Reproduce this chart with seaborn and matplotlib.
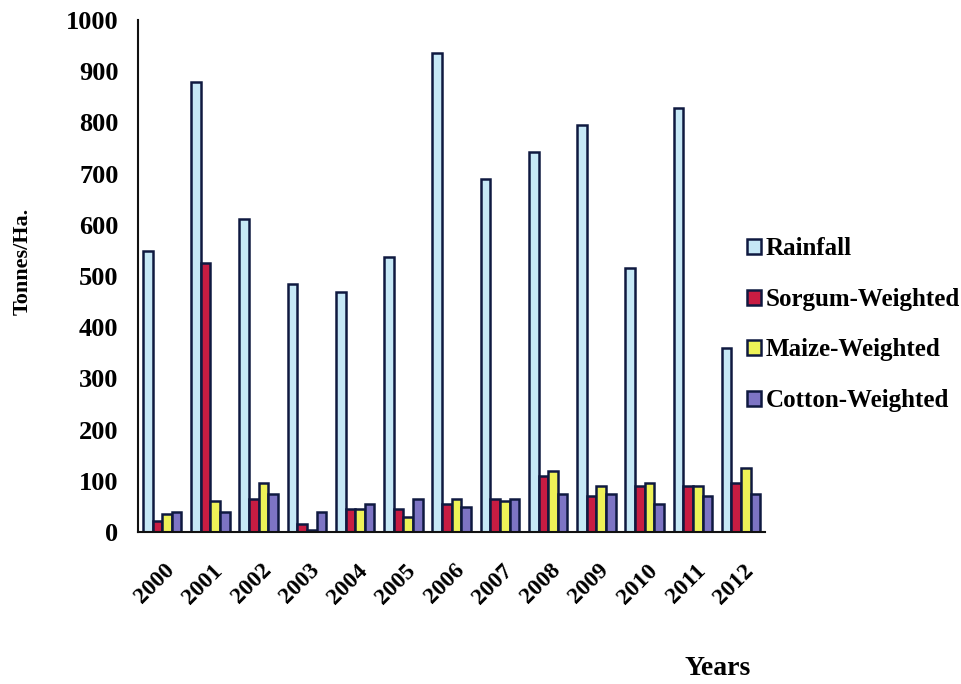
import pandas as pd
import matplotlib.pyplot as plt
import matplotlib.transforms as mtransforms
import seaborn as sns

# values
years = ['2000', '2001', '2002', '2003', '2004', '2005', '2006',
         '2007', '2008', '2009', '2010', '2011', '2012']
rainfall = [548, 878, 612, 484, 468, 538, 935, 690, 742, 795, 515, 828, 360]
sorgum = [22, 525, 65, 15, 45, 45, 55, 65, 110, 70, 90, 90, 95]
maize = [35, 60, 95, 5, 45, 30, 65, 60, 120, 90, 95, 90, 125]
cotton = [40, 40, 75, 40, 55, 65, 50, 65, 75, 75, 55, 70, 75]

series_names = ['Rainfall', 'Sorgum-Weighted', 'Maize-Weighted', 'Cotton-Weighted']
series_colors = ['#c6e8f6', '#c81c42', '#eef257', '#7d74c4']

data = pd.DataFrame({
    'Year': years * 4,
    'Value': rainfall + sorgum + maize + cotton,
    'Series': [n for n in series_names for _ in years],
})

sns.set_style('white')
plt.rcParams['font.family'] = ['Liberation Serif', 'DejaVu Serif']
plt.rcParams['font.weight'] = 'bold'
plt.rcParams['text.color'] = 'black'
plt.rcParams['xtick.color'] = 'black'
plt.rcParams['ytick.color'] = 'black'

fig = plt.figure(figsize=(9.62, 6.84), dpi=100)
ax = fig.add_axes([0.1435, 0.222, 0.652, 0.749])

sns.barplot(ax=ax, data=data, x='Year', y='Value', hue='Series',
            palette=series_colors, width=0.8, edgecolor='#0f1940',
            linewidth=1.8, saturation=1)

ax.set_xlim(-0.5, 12.5)
ax.set_ylim(0, 1000)
ax.set_yticks(range(0, 1001, 100))
ax.tick_params(axis='y', labelsize=19, length=0, pad=14, labelcolor='black')
ax.tick_params(axis='x', labelsize=17, length=0, pad=20, labelcolor='black')
shift = mtransforms.ScaledTranslation(2 / 100, 0, fig.dpi_scale_trans)
for lbl in ax.get_xticklabels():
    lbl.set_rotation(45)
    lbl.set_ha('right')
    lbl.set_rotation_mode('anchor')
    lbl.set_fontweight('bold')
    lbl.set_transform(lbl.get_transform() + shift)
for lbl in ax.get_yticklabels():
    lbl.set_fontweight('bold')

ax.set_xlabel('')
ax.set_ylabel('')
fig.text(0.024, 0.618, 'Tonnes/Ha.', rotation=90, fontsize=16, fontweight='bold',
         ha='center', va='center', color='black')
fig.text(0.746, 0.023, 'Years', fontsize=20, fontweight='bold', ha='center',
         va='center', color='black')

for side in ['top', 'right']:
    ax.spines[side].set_visible(False)
ax.spines['left'].set_color('#111111')
ax.spines['bottom'].set_color('#111111')
ax.spines['left'].set_linewidth(1.5)
ax.spines['bottom'].set_linewidth(1.5)

handles, labels = ax.get_legend_handles_labels()
leg = ax.legend(handles, labels, loc='center left', bbox_to_anchor=(0.935, 0.405),
                frameon=False, labelspacing=1.1, handlelength=0.55,
                handleheight=0.55, handletextpad=0.2,
                prop={'weight': 'bold', 'size': 18})
for t in leg.get_texts():
    t.set_color('black')

fig.savefig('out.png', dpi=100)
